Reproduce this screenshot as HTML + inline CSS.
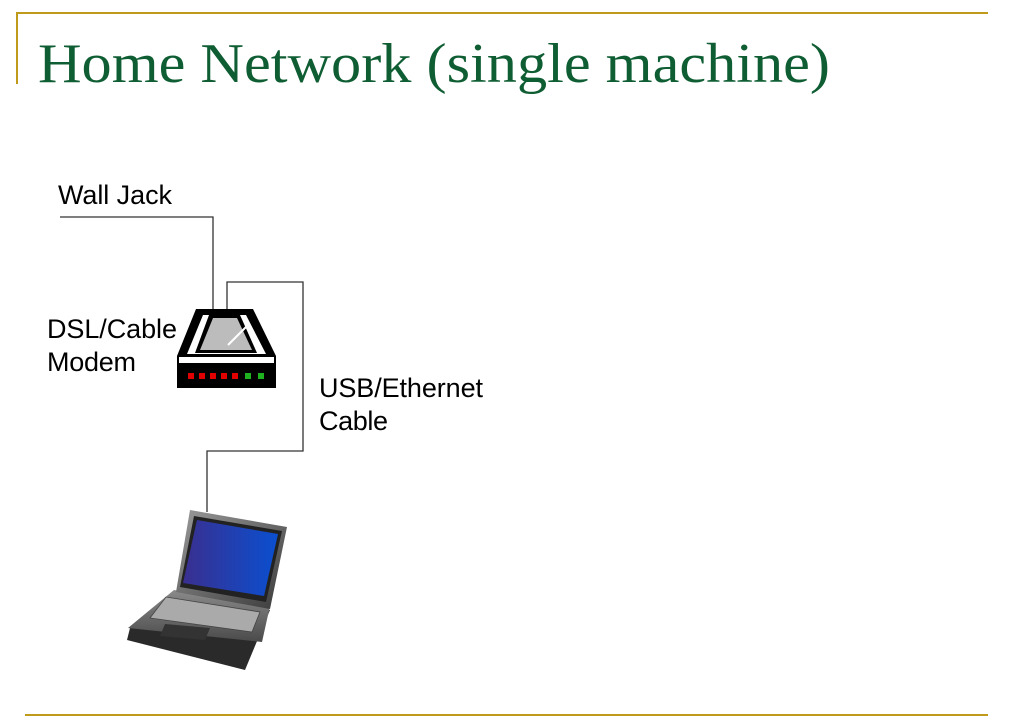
<!DOCTYPE html>
<html><head><meta charset="utf-8"><style>
html,body{margin:0;padding:0;background:#fff;}
svg{display:block;}
</style></head><body>
<svg width="1011" height="727" viewBox="0 0 1011 727" xmlns="http://www.w3.org/2000/svg">
<defs>
<linearGradient id="scr" x1="0" y1="0" x2="1" y2="0">
<stop offset="0" stop-color="#3a2f8f"/><stop offset="1" stop-color="#0a4fd0"/></linearGradient>
<linearGradient id="lid" x1="0" y1="0" x2="1" y2="1">
<stop offset="0" stop-color="#9a9a9a"/><stop offset="1" stop-color="#3a3a3a"/></linearGradient>
<linearGradient id="base" x1="0" y1="0" x2="0" y2="1">
<stop offset="0" stop-color="#8a8a8a"/><stop offset="1" stop-color="#4a4a4a"/></linearGradient>
</defs>
<line x1="16" y1="13" x2="988" y2="13" stroke="#c09a1a" stroke-width="2"/>
<line x1="17" y1="13" x2="17" y2="84" stroke="#c09a1a" stroke-width="2"/>
<line x1="25" y1="715" x2="988" y2="715" stroke="#c09a1a" stroke-width="2"/>
<text x="38" y="82" font-family="Liberation Serif, serif" font-size="56" fill="#0f5e33" textLength="792" lengthAdjust="spacingAndGlyphs">Home Network (single machine)</text>
<g font-family="Liberation Sans, sans-serif" font-size="27" fill="#000" lengthAdjust="spacingAndGlyphs">
<text x="58" y="204" textLength="114">Wall Jack</text>
<text x="47" y="338" textLength="130">DSL/Cable</text>
<text x="47" y="371" textLength="89">Modem</text>
<text x="319" y="397" textLength="164">USB/Ethernet</text>
<text x="319" y="430" textLength="69">Cable</text>
</g>
<g fill="none" stroke="#333" stroke-width="1.3">
<polyline points="60,217 213,217 213,310"/>
<polyline points="227,310 227,282 303,282 303,451 207,451 207,512"/>
</g>
<polygon points="196,309 253,309 276,356 177,356" fill="#000"/>
<polygon points="203,315 246,315 266,354 187,354" fill="#fff"/>
<polygon points="209,315 240,315 257,353 195,353" fill="#000"/>
<polygon points="213,318 237,318 252,350 200,350" fill="#bcbcbc"/>
<line x1="228" y1="345" x2="248" y2="325" stroke="#fff" stroke-width="2"/>
<rect x="177" y="356" width="99" height="32" fill="#000"/>
<rect x="179" y="357" width="95" height="6" fill="#fff"/>
<g fill="#e00000"><rect x="188" y="373" width="6" height="6"/><rect x="199" y="373" width="6" height="6"/><rect x="210" y="373" width="6" height="6"/><rect x="221" y="373" width="6" height="6"/><rect x="232" y="373" width="6" height="6"/></g>
<g fill="#1fb01f"><rect x="245" y="373" width="6" height="6"/><rect x="258" y="373" width="6" height="6"/></g>
<polygon points="176,592 270,610 245,670 127,640 130,628" fill="#2a2a2a"/>
<polygon points="174,590 270,606 262,642 128,628" fill="url(#base)"/>
<polygon points="166,597 260,612 252,632 150,618" fill="#aaa" stroke="#444" stroke-width="0.8"/>
<polygon points="165,624 210,628 205,640 160,636" fill="#333"/>
<polygon points="190,510 287,527 270,609 176,592" fill="url(#lid)"/>
<polygon points="194,516 282,531 266,602 180,587" fill="#222"/>
<polygon points="197,520 278,534 264,596 183,583" fill="url(#scr)"/>
</svg>
</body></html>
